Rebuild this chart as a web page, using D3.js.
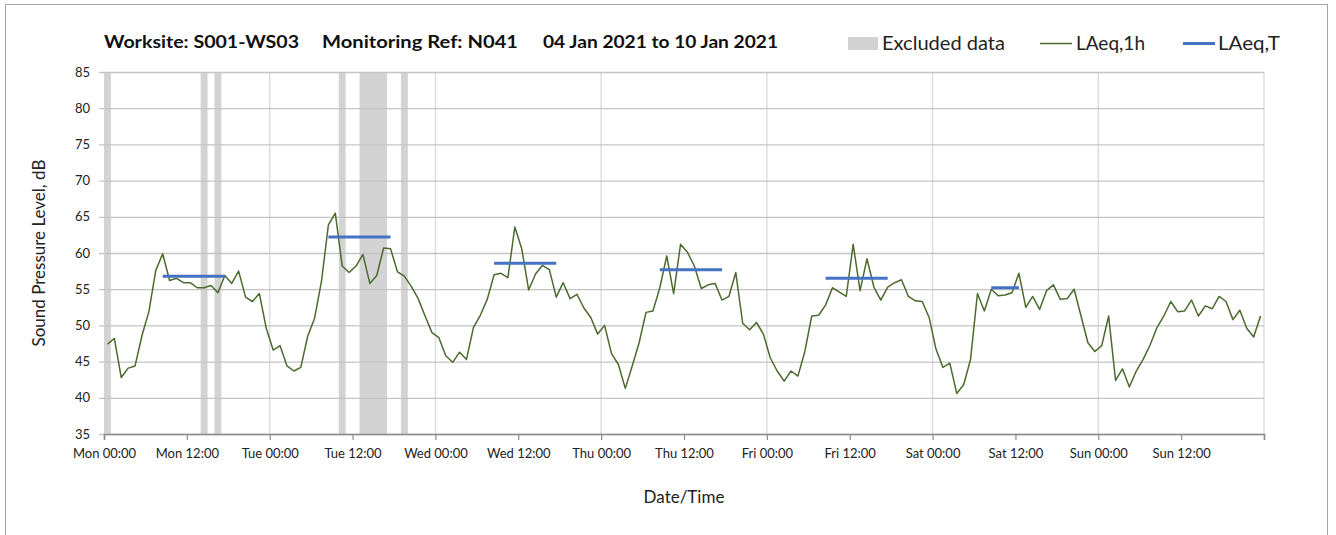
<!DOCTYPE html>
<html><head><meta charset="utf-8">
<script src="https://cdn.jsdelivr.net/npm/d3@7"></script>
<style>
html,body{margin:0;padding:0;background:#fff;}
svg{display:block;font-family:Lato,"Open Sans",sans-serif;}
</style></head>
<body><svg id="c" width="1336" height="535"></svg>
<script>
// ---- data ----
const titleParts = ["Worksite: S001-WS03", "Monitoring Ref: N041", "04 Jan 2021 to 10 Jan 2021"];
const tickLabels = ["Mon 00:00","Mon 12:00","Tue 00:00","Tue 12:00","Wed 00:00","Wed 12:00","Thu 00:00","Thu 12:00","Fri 00:00","Fri 12:00","Sat 00:00","Sat 12:00","Sun 00:00","Sun 12:00"];
const yTicks = [35,40,45,50,55,60,65,70,75,80,85];
// hourly LAeq,1h values, Mon 00:00 .. Sun 23:00 (168 hours)
const laeq1h = [
 47.4,48.2,42.8,44.1,44.4,48.6,51.9,57.6,59.9,56.2,56.5,55.9,55.9,55.2,55.2,55.5,54.5,56.9,55.8,57.5,53.9,53.3,54.4,49.6,
 46.6,47.2,44.4,43.7,44.2,48.5,51.0,56.1,63.9,65.5,58.2,57.3,58.2,59.8,55.8,56.9,60.7,60.6,57.4,56.8,55.4,53.7,51.3,49.0,
 48.3,45.8,44.9,46.3,45.3,49.7,51.4,53.6,57.0,57.2,56.6,63.6,60.6,54.9,57.1,58.3,57.7,53.9,55.9,53.7,54.3,52.4,51.1,48.8,
 50.0,46.1,44.6,41.3,44.4,47.6,51.8,52.0,55.2,59.6,54.4,61.2,60.1,58.2,55.1,55.6,55.8,53.5,54.0,57.3,50.3,49.4,50.4,48.8,
 45.5,43.7,42.3,43.7,43.0,46.4,51.3,51.4,52.8,55.2,54.6,54.0,61.2,54.8,59.2,55.3,53.5,55.3,55.9,56.3,54.0,53.4,53.3,51.1,
 46.7,44.2,44.8,40.6,41.8,45.3,54.4,52.0,55.0,54.1,54.2,54.5,57.2,52.5,54.0,52.2,54.8,55.6,53.6,53.7,55.0,51.3,47.6,46.4,
 47.2,51.3,42.4,44.0,41.5,43.7,45.3,47.3,49.7,51.3,53.3,51.9,52.0,53.5,51.3,52.7,52.3,54.0,53.3,50.8,52.1,49.6,48.4,51.3
];
// excluded data periods (hour from Mon 00:00)
const excludedStart = [0, 14, 16, 34, 37, 43];
const excludedEnd   = [1, 15, 17, 35, 41, 44];
// LAeq,T periods (hour from Mon 00:00) and values
const ltStart = [8.5, 32.5, 56.5, 80.5, 104.5, 128.5];
const ltEnd   = [17.5, 41.5, 65.5, 89.5, 113.5, 132.5];
const ltValue = [56.8, 62.2, 58.6, 57.7, 56.5, 55.2];
const legendLabels = ["Excluded data", "LAeq,1h", "LAeq,T"];

// ---- layout ----
const svg = d3.select("#c");
const L = 104, R = 1264, T = 72, B = 434;
const x = d3.scaleLinear().domain([0,168]).range([L,R]);
const y = d3.scaleLinear().domain([35,85]).range([B,T]);
const green = "#4b6a2e", blue = "#4472c4", band = "#d3d3d3";

// outer frame
svg.append("rect").attr("x",5.5).attr("y",4.5).attr("width",1322).attr("height",540)
  .attr("fill","none").attr("stroke","#a6a6a6").attr("stroke-width",1);

// excluded bands
svg.append("g").selectAll("rect").data(excludedStart).join("rect")
  .attr("x",(d)=>x(d)).attr("width",(d,i)=>x(excludedEnd[i])-x(d))
  .attr("y",T).attr("height",B-T).attr("fill",band);

// vertical gridlines (days)
const dayTicks = d3.range(24,169,24);
svg.append("g").selectAll("line").data(dayTicks).join("line")
  .attr("x1",d=>x(d)).attr("x2",d=>x(d)).attr("y1",T).attr("y2",B)
  .attr("stroke","#d9d9d9").attr("stroke-width",1.3);

// y axis with gridlines
const yAxis = d3.axisLeft(y).tickValues(yTicks).tickSize(-(R-L)).tickPadding(14);
const gy = svg.append("g").attr("transform",`translate(${L},0)`).call(yAxis);
gy.select(".domain").remove();
gy.selectAll(".tick line").attr("stroke","#c4c4c4").attr("stroke-width",1.3).attr("x1",-5);
gy.selectAll(".tick text").attr("font-size",13).attr("fill","#222").attr("font-family","Lato,sans-serif");

// x axis
const xTickVals = d3.range(0,169,12);
const xAxis = d3.axisBottom(x).tickValues(xTickVals).tickSize(6).tickPadding(9)
  .tickFormat((d,i)=> tickLabels[i] || "");
const gx = svg.append("g").attr("transform",`translate(0,${B})`).call(xAxis);
gx.select(".domain").attr("stroke","#8c8c8c").attr("stroke-width",1.6);
gx.selectAll(".tick line").attr("stroke","#8c8c8c").attr("stroke-width",1.2);
gx.selectAll(".tick text").attr("font-size",13).attr("fill","#222").attr("font-family","Lato,sans-serif");

// LAeq,1h line
const line = d3.line().x((d,i)=>x(i+0.5)).y(d=>y(d));
svg.append("path").datum(laeq1h).attr("d",line).attr("fill","none")
  .attr("stroke",green).attr("stroke-width",1.5).attr("stroke-linejoin","round");

// LAeq,T lines
svg.append("g").selectAll("line").data(ltValue).join("line")
  .attr("x1",(d,i)=>x(ltStart[i])).attr("x2",(d,i)=>x(ltEnd[i]))
  .attr("y1",d=>y(d)).attr("y2",d=>y(d))
  .attr("stroke",blue).attr("stroke-width",3);

// axis titles
svg.append("text").attr("x",(L+R)/2).attr("y",503).attr("text-anchor","middle")
  .attr("font-size",17).attr("fill","#222").text("Date/Time");
svg.append("text").attr("transform",`translate(45,${(T+B)/2}) rotate(-90)`)
  .attr("text-anchor","middle").attr("font-size",17).attr("fill","#222")
  .text("Sound Pressure Level, dB");

// title
const titleX = [104, 322, 543];
const titleW = [195, 196, 235];
svg.append("g").selectAll("text").data(titleParts).join("text")
  .attr("x",(d,i)=>titleX[i]).attr("y",48)
  .attr("font-size",16.5).attr("font-weight","bold").attr("fill","#111")
  .attr("textLength",(d,i)=>titleW[i]).attr("lengthAdjust","spacingAndGlyphs")
  .text(d=>d);

// legend
const lg = svg.append("g");
const lgTextX = [882, 1076, 1218], lgTextW = [123, 69, 62];
lg.append("rect").attr("x",848).attr("y",37).attr("width",30).attr("height",13).attr("fill",band);
lg.append("line").attr("x1",1040).attr("x2",1072).attr("y1",43.5).attr("y2",43.5).attr("stroke",green).attr("stroke-width",1.5);
lg.append("line").attr("x1",1183).attr("x2",1215).attr("y1",43.5).attr("y2",43.5).attr("stroke",blue).attr("stroke-width",3);
lg.selectAll("text").data(legendLabels).join("text")
  .attr("x",(d,i)=>lgTextX[i]).attr("y",50).attr("font-size",19).attr("fill","#222")
  .attr("textLength",(d,i)=>lgTextW[i]).attr("lengthAdjust","spacingAndGlyphs")
  .text(d=>d);
</script>
</body></html>
